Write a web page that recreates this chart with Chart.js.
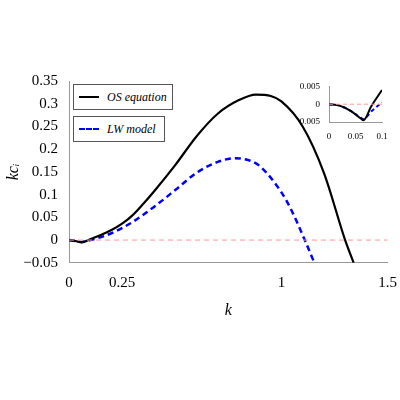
<!DOCTYPE html>
<html><head><script src="https://cdn.jsdelivr.net/npm/chart.js"></script>
<style>body{margin:0;background:#fff}#w{position:relative;width:400px;height:400px}
canvas{position:absolute}
.lg{position:absolute;border:1px solid #555;background:#fff;font:italic 12px "Liberation Serif";display:flex;align-items:center;padding:0 5px;height:24px}
.sw{width:20px;margin-right:8px;height:0}
</style></head><body><div id="w">
<canvas id="c" width="400" height="400" style="left:0;top:0"></canvas>
<canvas id="i" width="100" height="60" style="left:300px;top:80px"></canvas>
<div class="lg" style="left:73px;top:84px"><div class="sw" style="border-top:2.5px solid #000"></div>OS equation</div>
<div class="lg" style="left:73px;top:116px;width:85px;padding-right:0"><div class="sw" style="border-top:2.5px dashed #00f"></div>LW model</div>
</div>
<script>
const osK=[0,0.03,0.06,0.1,0.15,0.2,0.25,0.3,0.35,0.4,0.5,0.6,0.7,0.8,0.88,0.95,1.0,1.1,1.2,1.3,1.34];
const osV=[0,-0.002,-0.005,0.002,0.011,0.022,0.036,0.055,0.08,0.107,0.165,0.228,0.278,0.308,0.32,0.317,0.305,0.25,0.148,0.0,-0.05];
const lwK=[0,0.03,0.06,0.1,0.2,0.3,0.4,0.5,0.6,0.7,0.78,0.85,0.9,1.0,1.05,1.11,1.155];
const lwV=[0,-0.002,-0.004,0.0,0.015,0.04,0.073,0.11,0.148,0.172,0.18,0.175,0.162,0.105,0.063,0.0,-0.05];
const inK=[0,0.02,0.04,0.06,0.065,0.08,0.1];
const inOS=[0,-0.0004,-0.0018,-0.004,-0.0045,-0.0005,0.004];
const inLW=[0,-0.0004,-0.0018,-0.0038,-0.0042,-0.002,0.0005];
const xTicks=[0,0.25,1,1.5], yTicks=[-0.05,0,0.05,0.1,0.15,0.2,0.25,0.3,0.35];
const pts=(k,v)=>k.map((x,i)=>({x,y:v[i]}));
const F='Liberation Serif';
Chart.defaults.font.family=F;Chart.defaults.color='#000';Chart.defaults.animation=false;
function ds(d,c,w,dash){return{data:d,borderColor:c,borderWidth:w,borderDash:dash,pointRadius:0,cubicInterpolationMode:'monotone',fill:false};}
new Chart(c,{type:'line',data:{datasets:[
 ds([{x:0,y:0},{x:1.5,y:0}],'#f99',1,[5,4]),
 ds(pts(osK,osV),'#000',2.2),ds(pts(lwK,lwV),'#00f',2.5,[6,4])]},
 options:{responsive:false,layout:{padding:{top:81,right:10,bottom:76}},plugins:{legend:{display:false},tooltip:{enabled:false}},
 scales:{x:{type:'linear',min:0,max:1.5,afterBuildTicks:s=>{s.ticks=xTicks.map(v=>({value:v}))},
   ticks:{font:{size:15},callback:v=>String(v),maxRotation:0},grid:{display:false},border:{color:'#999'},
   title:{display:true,text:'k',font:{size:16,style:'italic'},padding:{top:6}}},
  y:{min:-0.05,max:0.35,afterBuildTicks:s=>{s.ticks=yTicks.map(v=>({value:v}))},
   ticks:{font:{size:15},callback:v=>v<0?'\u2212'+String(-v):String(v)},grid:{display:false},border:{color:'#999'},
   title:{display:true,text:'kcᵢ',font:{size:16,style:'italic'}},afterFit:s=>{s.width=69}}}}});
new Chart(i,{type:'line',data:{datasets:[
 ds([{x:0,y:0},{x:0.1,y:0}],'#f99',1,[4,3]),
 ds(pts(inK,inOS),'#000',2,undefined),ds(pts(inK,inLW),'#00f',2,[4,3])]},
 options:{responsive:false,layout:{padding:{top:6,right:18}},plugins:{legend:{display:false},tooltip:{enabled:false}},
 scales:{x:{type:'linear',min:0,max:0.1,afterBuildTicks:s=>{s.ticks=[0,0.05,0.1].map(v=>({value:v}))},
   ticks:{font:{size:9},padding:1,maxRotation:0,callback:v=>String(v)},grid:{display:false},border:{color:'#999'},afterFit:s=>{s.height=18}},
  y:{min:-0.005,max:0.005,afterBuildTicks:s=>{s.ticks=[-0.005,0,0.005].map(v=>({value:v}))},
   ticks:{font:{size:9},padding:1,callback:v=>String(v)},grid:{display:false},border:{color:'#999'},afterFit:s=>{s.width=29}}}}});
</script></body></html>
